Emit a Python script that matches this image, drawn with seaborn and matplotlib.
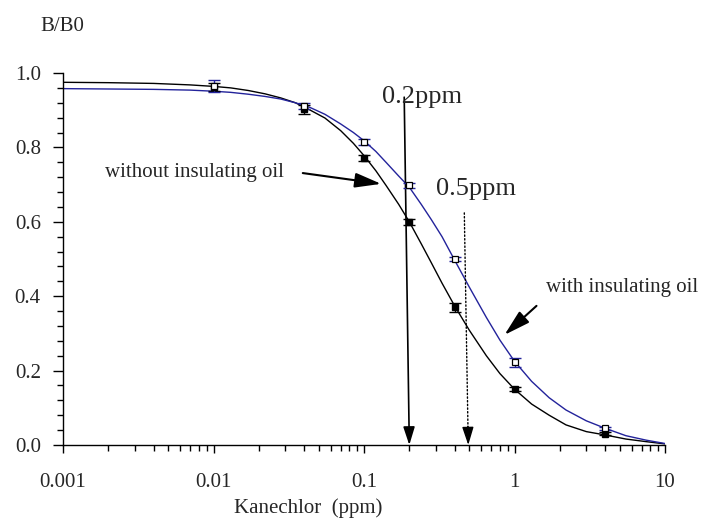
import numpy as np
import pandas as pd
import matplotlib
matplotlib.use('Agg')
import matplotlib.pyplot as plt
import seaborn as sns

# measured points (B/B0 vs Kanechlor concentration)
conc = [0.01, 0.04, 0.1, 0.2, 0.4, 1, 4]
without_oil = [0.962, 0.902, 0.772, 0.600, 0.370, 0.150, 0.030]
without_err = [0.010, 0.012, 0.008, 0.008, 0.012, 0.005, 0.004]
with_oil = [0.965, 0.912, 0.815, 0.698, 0.500, 0.222, 0.045]
with_err = [0.015, 0.008, 0.008, 0.007, 0.006, 0.012, 0.004]

# fitted curves
curve_x = [0.001, 0.002, 0.004, 0.007, 0.01, 0.013, 0.017, 0.022, 0.028, 0.035,
           0.044, 0.055, 0.07, 0.085, 0.1, 0.12, 0.14, 0.17, 0.2, 0.24,
           0.28, 0.33, 0.4, 0.5, 0.65, 0.8, 1, 1.3, 1.7, 2.2,
           3, 4, 5.5, 7.5, 10]
curve_without = [0.975, 0.974, 0.972, 0.968, 0.964, 0.960, 0.953, 0.944, 0.933, 0.920,
                 0.900, 0.879, 0.845, 0.811, 0.778, 0.737, 0.698, 0.647, 0.600, 0.541,
                 0.490, 0.435, 0.374, 0.309, 0.240, 0.192, 0.150, 0.110, 0.080, 0.054,
                 0.036, 0.027, 0.016, 0.009, 0.003]
curve_with = [0.958, 0.957, 0.956, 0.954, 0.951, 0.948, 0.943, 0.937, 0.930, 0.920,
              0.907, 0.889, 0.863, 0.840, 0.818, 0.789, 0.760, 0.723, 0.693, 0.647,
              0.606, 0.560, 0.497, 0.425, 0.343, 0.282, 0.225, 0.171, 0.127, 0.094,
              0.065, 0.045, 0.025, 0.013, 0.004]

BLUE = '#23239b'

sns.set_style('ticks')
plt.rcParams['font.family'] = ['Liberation Serif', 'DejaVu Serif']

fig = plt.figure(figsize=(7.01, 5.27), dpi=100)
ax = fig.add_axes([63/701, 1-445/527, (665-63)/701, (445-73)/527])

curves = pd.DataFrame({'x': curve_x, 'without': curve_without, 'with': curve_with})
sns.lineplot(data=curves, x='x', y='without', ax=ax, color='black', lw=1.0)
sns.lineplot(data=curves, x='x', y='with', ax=ax, color=BLUE, lw=1.0)

ax.errorbar(conc, without_oil, yerr=without_err, fmt='none', ecolor='black',
            elinewidth=1.0, capsize=4, capthick=1.0, zorder=4)
ax.errorbar(conc, with_oil, yerr=with_err, fmt='none', ecolor=BLUE,
            elinewidth=1.0, capsize=4, capthick=1.0, zorder=4)
ax.plot(conc, without_oil, 's', ms=4.5, mfc='black', mec='black', zorder=5)
ax.plot(conc, with_oil, 's', ms=4.5, mfc='white', mec='black', mew=0.9, zorder=6)

ax.set_xscale('log')
ax.set_xlim(0.001, 10)
ax.set_ylim(0, 1.0)
ax.set_xticks([0.001, 0.01, 0.1, 1, 10])
ax.set_xticklabels(['0.001', '0.01', '0.1', '1', '10'])
ax.set_yticks([0, 0.2, 0.4, 0.6, 0.8, 1.0])
ax.set_yticklabels(['0.0', '0.2', '0.4', '0.6', '0.8', '1.0'])
ax.yaxis.set_minor_locator(matplotlib.ticker.MultipleLocator(0.04))
ax.tick_params(axis='both', which='major', labelsize=15, length=6, width=1, color='black')
ax.tick_params(axis='both', which='minor', length=4.5, width=1, color='black')
ax.tick_params(axis='x', which='major', pad=14)
ax.tick_params(axis='y', which='major', pad=9, length=7)
sns.despine(ax=ax)
for s in ['left', 'bottom']:
    ax.spines[s].set_color('black')
    ax.spines[s].set_linewidth(1.0)
ax.set_xlabel('')
ax.set_ylabel('')

fig.text(40/701, 1-31/527, 'B/B0', fontsize=15, ha='left', va='baseline')
fig.text(308/701, 1-513/527, 'Kanechlor  (ppm)', fontsize=15, ha='center', va='baseline')

head = '-|>,head_length=1.1,head_width=0.35'

# arrows marking 0.2 and 0.5 ppm
ax.annotate('', xy=(0.2, 0.0), xytext=(0.185, 0.935),
            arrowprops=dict(arrowstyle=head, color='black', lw=1.2,
                            shrinkA=0, shrinkB=0))
ax.annotate('', xy=(0.491, 0.04), xytext=(0.464, 0.624),
            arrowprops=dict(arrowstyle='-', color='black', lw=1.0, ls=':',
                            shrinkA=0, shrinkB=0))
ax.annotate('', xy=(0.493, 0.0), xytext=(0.490, 0.05),
            arrowprops=dict(arrowstyle=head, color='black', lw=1.0,
                            shrinkA=0, shrinkB=0))
ax.text(0.132, 0.919, '0.2ppm', fontsize=19, ha='left', va='baseline')
ax.text(0.302, 0.672, '0.5ppm', fontsize=19, ha='left', va='baseline')

ax.annotate('', xy=(0.13, 0.702), xytext=(0.0392, 0.731),
            arrowprops=dict(arrowstyle='-|>,head_length=1.6,head_width=0.45',
                            color='black', lw=1.5, shrinkA=0, shrinkB=0))
ax.text(0.0019, 0.72, 'without insulating oil', fontsize=15, ha='left', va='baseline')
ax.annotate('', xy=(0.858, 0.296), xytext=(1.40, 0.374),
            arrowprops=dict(arrowstyle='-|>,head_length=1.6,head_width=0.45',
                            color='black', lw=1.5, shrinkA=0, shrinkB=0))
ax.text(1.63, 0.411, 'with insulating oil', fontsize=15, ha='left', va='baseline')

fig.savefig('out.png', dpi=100)
